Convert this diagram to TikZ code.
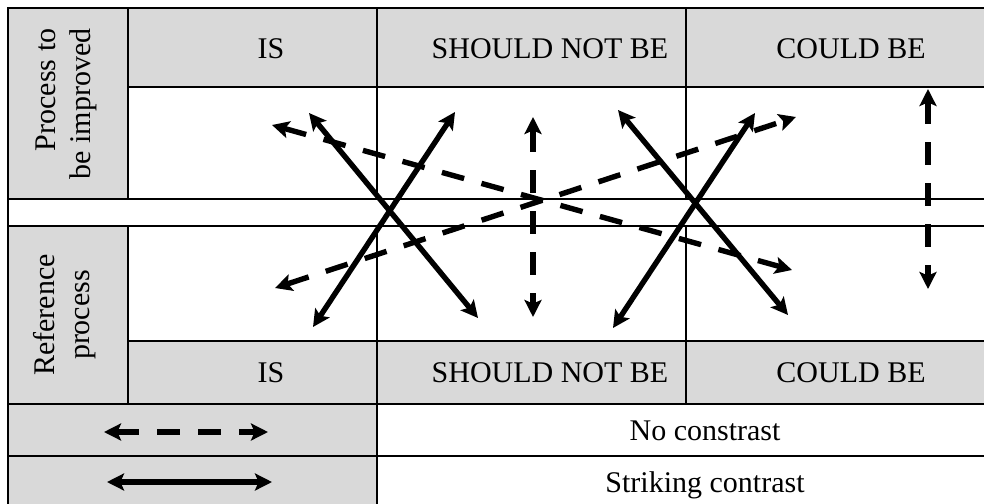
\documentclass[tikz,border=0pt]{standalone}
\usepackage{fontspec}
\setmainfont{Liberation Serif}
\usetikzlibrary{arrows.meta}

\definecolor{cellgrey}{HTML}{D9D9D9}

\begin{document}
\begin{tikzpicture}[
    x=0.5pt, y=-0.5pt,
    font=\fontsize{15}{17.5}\selectfont,
    grid/.style={line width=1pt},
    rim/.style={line width=1.4pt},
    greycell/.style={fill=cellgrey},
    cell/.style={inner sep=0pt, anchor=base},
    sidelabel/.style={inner sep=0pt, rotate=90},
    strong/.style={{Stealth[length=8.5pt,width=8.5pt,inset=1.8pt]}-{Stealth[length=8.5pt,width=8.5pt,inset=1.8pt]}, line width=2.7pt},
    weak/.style={strong, dash pattern=on 11.5pt off 9pt}
]
\useasboundingbox (0,0) rectangle (984,503);
\fill[white] (0,0) rectangle (984,503);

% Shaded cells
\fill[greycell] (8,8) rectangle (128,199);
\fill[greycell] (128,8) rectangle (995,87);
\fill[greycell] (8,226) rectangle (128,404);
\fill[greycell] (128,341) rectangle (995,404);
\fill[greycell] (8,404) rectangle (377,515);

% Table rules
\foreach \y in {199,226,404,456}
    \draw[grid] (8,\y) -- (995,\y);
\foreach \y in {87,341}
    \draw[grid] (128,\y) -- (995,\y);
\foreach \x in {128,377,686} {
    \draw[grid] (\x,8) -- (\x,199);
    \draw[grid] (\x,226) -- (\x,404);
}
\draw[grid] (377,404) -- (377,515);
\draw[rim] (8,515) -- (8,8) -- (995,8);

% Row labels
\node[sidelabel, align=right] (improved) at (66,104) {Process to\\be improved};
\node[sidelabel, align=center] (reference) at (65,315) {Reference\\process};

% Column headers
\node[cell] (topIs) at (271,58) {IS};
\node[cell] (topNot) at (550,58) {SHOULD NOT BE};
\node[cell] (topCould) at (851,58) {COULD BE};
\node[cell] (botIs) at (271,382) {IS};
\node[cell] (botNot) at (550,382) {SHOULD NOT BE};
\node[cell] (botCould) at (851,382) {COULD BE};

% Legend
\node[cell] (noContrast) at (705,440) {No constrast};
\node[cell] (striking) at (705,492) {Striking contrast};
\coordinate (legWeakL) at (104,432);
\coordinate (legWeakR) at (268,432);
\coordinate (legStrongL) at (107,482);
\coordinate (legStrongR) at (272,482);
\draw[weak] (legWeakL) -- (legWeakR);
\draw[strong] (legStrongL) -- (legStrongR);

% Arrow ends
\coordinate (isUp) at (309,113);    \coordinate (notDown) at (478,318);
\coordinate (isDown) at (313,327);  \coordinate (notUp) at (455,112);
\coordinate (notUpR) at (618,110);  \coordinate (couldDown) at (788,315);
\coordinate (notDownR) at (613,328);\coordinate (couldUp) at (755,113);
\coordinate (isUpD) at (272,125);   \coordinate (couldDownD) at (792,270);
\coordinate (isDownD) at (275,288); \coordinate (couldUpD) at (796,117);
\coordinate (notTopD) at (533,117); \coordinate (notBotD) at (533,317);
\coordinate (cTopD) at (928,89);    \coordinate (cBotD) at (928,289);

% Striking contrasts
\draw[strong] (isUp) -- (notDown);
\draw[strong] (isDown) -- (notUp);
\draw[strong] (notUpR) -- (couldDown);
\draw[strong] (notDownR) -- (couldUp);

% No contrasts
\draw[weak] (isUpD) -- (couldDownD);
\draw[weak] (isDownD) -- (couldUpD);
\draw[weak] (notTopD) -- (notBotD);
\draw[weak] (cTopD) -- (cBotD);

\end{tikzpicture}
\end{document}
